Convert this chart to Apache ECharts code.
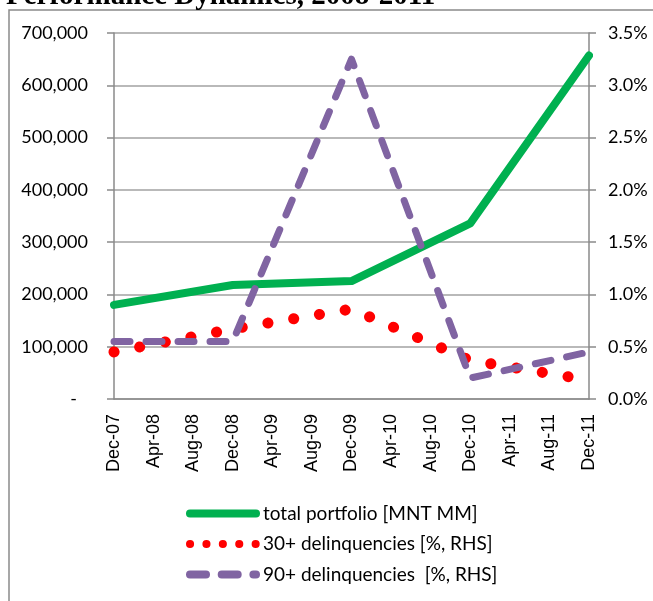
<!DOCTYPE html>
<html>
<head>
<meta charset="utf-8">
<script src="https://cdn.jsdelivr.net/npm/echarts@6/dist/echarts.min.js"></script>
<style>
  html, body { margin: 0; padding: 0; background: #fff; }
  #chart { width: 653px; height: 601px; }
</style>
</head>
<body>
<div id="chart"></div>
<script>
  // data (Dec values only, lines connect across the gaps)
  const categories = ['Dec-07', 'Apr-08', 'Aug-08', 'Dec-08', 'Apr-09', 'Aug-09', 'Dec-09', 'Apr-10', 'Aug-10', 'Dec-10', 'Apr-11', 'Aug-11', 'Dec-11']
  const portfolio = [180000, null, null, 218000, null, null, 225500, null, null, 336000, null, null, 657000]
  const del30 = [0.45, null, null, 0.67, null, null, 0.86, null, null, 0.37, null, null, 0.18]
  const del90 = [0.55, null, null, 0.55, null, null, 3.25, null, null, 0.2, null, null, 0.45]
  const seriesNames = ['total portfolio [MNT MM]', '30+ delinquencies [%, RHS]', '90+ delinquencies  [%, RHS]']

  const GRAY = '#8a8a8a'
  const labelFont = 'Lato'

  const chart = echarts.init(document.getElementById('chart'))

  chart.setOption({
    animation: false,
    graphic: [
      {
        type: 'rect',
        z: -10,
        shape: {x: 9, y: 10, width: 700, height: 700},
        style: {fill: 'none', stroke: GRAY, lineWidth: 1.5}
      },
      {
        type: 'text',
        left: 6,
        top: -18,
        style: {
          text: 'Performance Dynamics, 2008-2011',
          font: 'bold 29px "Liberation Serif"',
          fill: '#000'
        }
      }
    ],
    grid: {left: 114, right: 64, top: 33, bottom: 202, containLabel: false},
    legend: {
      orient: 'vertical',
      left: 186,
      top: 504,
      padding: 0,
      itemWidth: 66,
      itemHeight: 14,
      itemGap: 11.5,
      textStyle: {fontFamily: labelFont, fontSize: 19, color: '#000', padding: [0, 0, 0, 2]},
      data: [
        {name: seriesNames[0], itemStyle: {opacity: 0}, lineStyle: {width: 8, cap: 'round', type: 'solid'}},
        {name: seriesNames[1], itemStyle: {opacity: 0}, lineStyle: {width: 8, cap: 'round', type: [0.1, 16.3]}},
        {name: seriesNames[2], itemStyle: {opacity: 0}, lineStyle: {width: 8, cap: 'round', type: [16, 15.7]}}
      ]
    },
    xAxis: {
      type: 'category',
      data: categories,
      boundaryGap: false,
      axisLine: {lineStyle: {color: GRAY, width: 1.5}},
      axisTick: {show: false},
      axisLabel: {
        rotate: 90,
        margin: 15,
        interval: 0,
        fontFamily: 'Liberation Sans',
        fontSize: 18,
        color: '#000'
      }
    },
    yAxis: [
      {
        type: 'value',
        min: 0,
        max: 700000,
        interval: 100000,
        axisLine: {show: true, lineStyle: {color: GRAY, width: 1.5}},
        axisTick: {show: true, length: 7, lineStyle: {color: GRAY, width: 1.5}},
        splitLine: {lineStyle: {color: '#a2a2a2', width: 1.5}},
        axisLabel: {
          margin: 26,
          fontFamily: labelFont,
          fontSize: 18,
          color: '#000',
          formatter: v => v === 0 ? '{z|-}' : v.toLocaleString('en-US'),
          rich: {z: {fontFamily: labelFont, fontSize: 18, color: '#000', padding: [0, 11, 0, 0]}}
        }
      },
      {
        type: 'value',
        min: 0,
        max: 3.5,
        interval: 0.5,
        position: 'right',
        axisLine: {show: true, lineStyle: {color: GRAY, width: 1.5}},
        axisTick: {show: true, length: 7, lineStyle: {color: GRAY, width: 1.5}},
        splitLine: {show: false},
        axisLabel: {
          margin: 19,
          fontFamily: labelFont,
          fontSize: 18,
          color: '#000',
          formatter: v => v.toFixed(1) + '%'
        }
      }
    ],
    series: [
      {
        name: seriesNames[0],
        type: 'line',
        yAxisIndex: 0,
        data: portfolio,
        connectNulls: true,
        symbol: 'none',
        color: '#00b050',
        lineStyle: {width: 8, cap: 'round', join: 'round'},
        z: 3
      },
      {
        name: seriesNames[1],
        type: 'line',
        yAxisIndex: 1,
        data: del30,
        connectNulls: true,
        symbol: 'none',
        color: '#ff0000',
        lineStyle: {width: 11, cap: 'round', join: 'round', type: [0.1, 26]},
        z: 4
      },
      {
        name: seriesNames[2],
        type: 'line',
        yAxisIndex: 1,
        data: del90,
        connectNulls: true,
        symbol: 'none',
        color: '#8064a2',
        lineStyle: {width: 7, cap: 'round', join: 'round', type: [16, 16]},
        z: 5
      }
    ]
  })
</script>
</body>
</html>
